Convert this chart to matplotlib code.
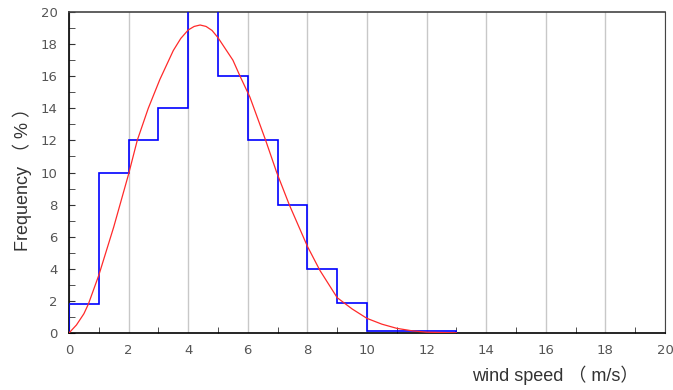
import matplotlib
matplotlib.use("Agg")
import matplotlib.pyplot as plt

# Histogram (bin edges and frequency %)
bin_edges = [0, 1, 2, 3, 4, 5, 6, 7, 8, 9, 10, 11, 12, 13]
freq = [1.8, 10, 12, 14, 21, 16, 12, 8, 4, 1.9, 0.1, 0.1, 0.1]

# Fitted curve, points
curve_x = [0, 0.25, 0.5, 0.65, 1.0, 1.5, 2.0, 2.29, 2.66, 3.05, 3.5, 3.75, 4.0, 4.2, 4.4,
           4.6, 4.8, 5.0, 5.5, 5.74, 6.07, 6.6, 6.97, 7.39, 8.0, 8.42, 9.0, 9.5, 10.0,
           10.5, 11.0, 11.5, 12.0, 13.0]
curve_y = [0, 0.5, 1.2, 1.8, 3.6, 6.6, 9.9, 12.0, 14.0, 15.8, 17.6, 18.35, 18.88, 19.1, 19.19,
           19.1, 18.85, 18.4, 17.0, 16.0, 14.7, 12.0, 10.0, 8.0, 5.4, 3.9, 2.2, 1.5, 0.91,
           0.55, 0.29, 0.14, 0.05, 0.01]

xticks = list(range(0, 21, 2))
yticks = list(range(0, 21, 2))

fig = plt.figure(figsize=(6.73, 3.9), dpi=100)
ax = fig.add_axes([69 / 673, 57 / 390, 596 / 673, 321 / 390])

ax.stairs(freq, bin_edges, color="#0000ff", linewidth=1.2, zorder=3)
ax.plot(curve_x, curve_y, color="#ff2a2a", linewidth=0.9, zorder=4)

ax.set_xlim(0, 20)
ax.set_ylim(0, 20)
ax.set_xticks(xticks)
ax.set_yticks(yticks)
ax.set_xticks(range(1, 20, 2), minor=True)
ax.set_yticks(range(1, 20, 2), minor=True)

ax.xaxis.grid(True, which="major", color="#c8c8c8", linewidth=1.0)
ax.set_axisbelow(True)

ax.tick_params(axis="x", which="major", direction="in", length=0, pad=8,
               labelsize=9.5, labelcolor="#555555")
ax.tick_params(axis="y", which="major", direction="in", length=4, pad=8,
               labelsize=9.5, labelcolor="#555555", color="#333333")
ax.tick_params(which="minor", direction="in", length=4, color="#333333")

for side in ["left", "bottom"]:
    ax.spines[side].set_color("#000000")
    ax.spines[side].set_linewidth(1.2)
ax.spines["top"].set_color("#444444")
ax.spines["right"].set_color("#444444")
ax.spines["top"].set_linewidth(1.2)

fam = ["Liberation Sans", "Noto Sans CJK SC", "DejaVu Sans"]
fig.text(555 / 673, 1 - 375 / 390, "wind speed （ m/s）", family=fam,
         fontsize=13, color="#333333", ha="center", va="center")
fig.text(22 / 673, 1 - 175 / 390, "Frequency （ % ）", family=fam,
         fontsize=13, color="#333333", ha="center", va="center", rotation=90)

fig.savefig("out.png", dpi=100)
